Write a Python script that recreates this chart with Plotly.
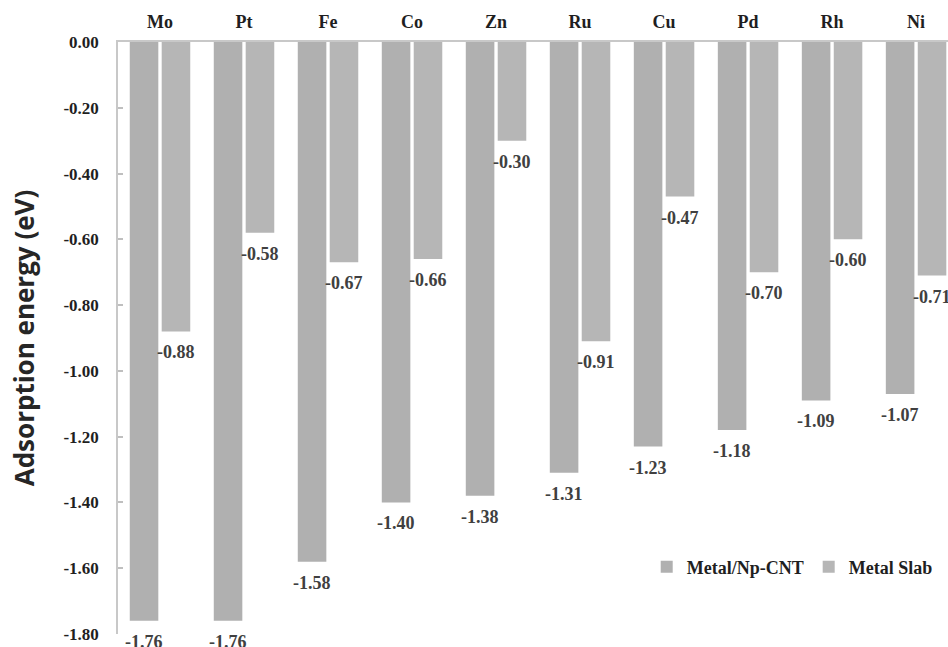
import plotly.graph_objects as go

metals = ["Mo", "Pt", "Fe", "Co", "Zn", "Ru", "Cu", "Pd", "Rh", "Ni"]
np_cnt = [-1.76, -1.76, -1.58, -1.40, -1.38, -1.31, -1.23, -1.18, -1.09, -1.07]
slab = [-0.88, -0.58, -0.67, -0.66, -0.30, -0.91, -0.47, -0.70, -0.60, -0.71]
y_ticks = [0.0, -0.2, -0.4, -0.6, -0.8, -1.0, -1.2, -1.4, -1.6, -1.8]
y_ticktext = ["0.00", "-0.20", "-0.40", "-0.60", "-0.80", "-1.00", "-1.20", "-1.40", "-1.60", "-1.80"]

SERIF = "Liberation Serif"
C1 = "#b0b0b0"
C2 = "#b6b6b6"
W = 0.34
OFF1, OFF2 = -0.36, 0.02

fig = go.Figure()
fig.add_trace(go.Bar(x=list(range(len(metals))), y=np_cnt, name="Metal/Np-CNT",
                     marker=dict(color=C1, line=dict(width=0)),
                     width=W, offset=OFF1))
fig.add_trace(go.Bar(x=list(range(len(metals))), y=slab, name="Metal Slab",
                     marker=dict(color=C2, line=dict(width=0)),
                     width=W, offset=OFF2))

annotations = []
for series, off in ((np_cnt, OFF1), (slab, OFF2)):
    for i, v in enumerate(series):
        annotations.append(dict(
            x=i + off + W / 2, y=v, xref="x", yref="y",
            text=f"{v:.2f}", showarrow=False, yanchor="top", yshift=-9,
            font=dict(family=SERIF, size=18, color="#404040", weight="bold")))

fig.update_layout(
    width=948, height=647,
    margin=dict(l=118, r=0, t=42, b=13, autoexpand=False),
    paper_bgcolor="white", plot_bgcolor="white",
    barmode="overlay",
    showlegend=True,
    legend=dict(orientation="h", x=0.637, y=0.113, xanchor="left", yanchor="middle",
                bgcolor="rgba(0,0,0,0)",
                font=dict(family=SERIF, size=18, color="#1f1f1f", weight="bold")),
    annotations=annotations,
    xaxis=dict(
        side="top", range=[-0.5, 9.38], automargin=False,
        tickmode="array", tickvals=list(range(len(metals))), ticktext=metals,
        showline=True, linecolor="#c8c8c8", linewidth=2,
        ticks="", showgrid=False, zeroline=False,
        ticklabelstandoff=5,
        tickfont=dict(family=SERIF, size=18, color="#1f1f1f", weight="bold"),
    ),
    yaxis=dict(
        range=[-1.8, 0], automargin=False,
        tickmode="array", tickvals=y_ticks, ticktext=y_ticktext,
        showline=True, linecolor="#c8c8c8", linewidth=1.5,
        ticks="inside", ticklen=5, tickcolor="#bfbfbf", tickwidth=1.5,
        showgrid=False, zeroline=False,
        ticklabelstandoff=14,
        tickfont=dict(family=SERIF, size=17, color="#1f1f1f", weight="bold"),
        title=dict(text="Adsorption energy (eV)", standoff=21,
                   font=dict(family="Open Sans", size=26, color="#262626", weight="bold")),
    ),
)

# remove the browser's default 8px body margin so the figure fills the window exactly
fig.write_html("out.html", config={"displayModeBar": False},
               post_script="document.body.style.margin='0';document.documentElement.style.overflow='hidden';")
